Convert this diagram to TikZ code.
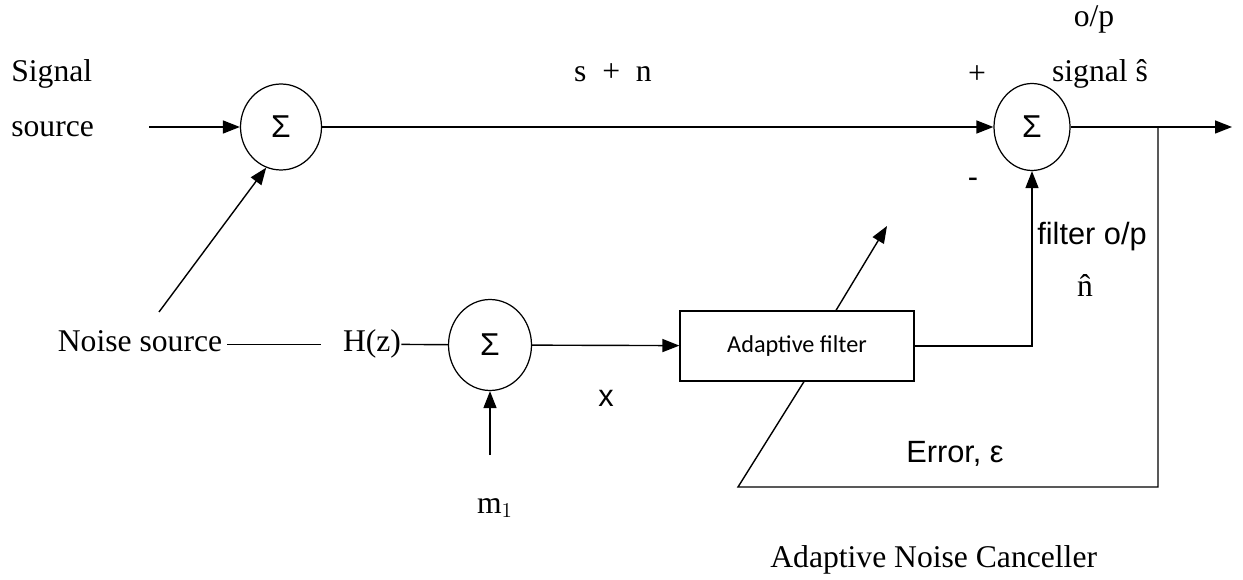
\documentclass[tikz,border=0pt]{standalone}
\usepackage{fontspec}
\setmainfont{Liberation Serif}
\newfontfamily\arialfont{Liberation Sans}
\newfontfamily\califont{Carlito}
\usepackage{tikz}
\usetikzlibrary{arrows.meta,positioning,shapes.geometric}
\tikzset{
  sumnode/.style={ellipse,draw,line width=0.7pt,inner sep=0pt,
    font=\arialfont\fontsize{18}{20}\selectfont},
  filterbox/.style={rectangle,draw,line width=0.7pt,minimum width=4.68cm,
    minimum height=1.4cm,font=\califont\fontsize{13.8}{16}\selectfont},
  serlbl/.style={inner sep=0pt,font=\fontsize{18}{22}\selectfont},
  sanlbl/.style={inner sep=0pt,font=\arialfont\fontsize{17.5}{21}\selectfont},
  arrow/.style={-{Triangle[length=3.4mm,width=2.6mm]},line width=0.8pt},
  wire/.style={line width=0.8pt}
}

\begin{document}
\begin{tikzpicture}[x=0.02cm,y=-0.02cm]
\useasboundingbox (0,0) rectangle (1243,580);
% blocks
\node[sumnode,minimum width=1.62cm,minimum height=1.72cm] (sumA) at (281,127) {Σ};
\node[sumnode,minimum width=1.52cm,minimum height=1.74cm] (sumB) at (1032,127) {Σ};
\node[sumnode,minimum width=1.66cm,minimum height=1.82cm] (sumC) at (490,345) {Σ};
\node[filterbox] (filt) at (797,346) {Adaptive filter};
% labels
\node[serlbl,anchor=base west] (sig1) at (11,82) {Signal};
\node[serlbl,anchor=base west] (sig2) at (11,137) {source};
\node[serlbl,anchor=base] (sn) at (613,82) {s\enspace+\enspace n};
\node[serlbl] (plus) at (977,75) {+};
\node[sanlbl] (minus) at (973,183) {-};
\node[serlbl,anchor=base] (op) at (1094,27) {o/p};
\node[serlbl,anchor=base] (shat) at (1100,82) {signal ŝ};
\node[sanlbl,anchor=base] (fop) at (1092,245) {filter o/p};
\node[serlbl,anchor=base] (nhat) at (1085,297) {\^n};
\node[sanlbl,anchor=base] (err) at (955,462) {Error, ε};
\node[sanlbl,anchor=base] (xin) at (606,407) {x};
\node[serlbl,anchor=base] (noise) at (140,352) {Noise source};
\node[serlbl,anchor=base] (hz) at (372,352) {H(z)};
\node[serlbl,anchor=base] (mone) at (495,513) {m$_1$};
\node[serlbl,anchor=base west] (cap) at (770,567) {Adaptive Noise Canceller};
% free ends
\coordinate (sigin) at (149,127);
\coordinate (nsin) at (159,312);
\coordinate (min) at (490,455);
\coordinate (out) at (1232,127);
\coordinate (tap) at (1158,127);
\coordinate (errc) at (738,487);
\coordinate (adapt) at (887,226);
% connections
\draw[arrow] (sigin) -- (sumA); \draw[arrow] (nsin) -- (sumA.250);
\draw[arrow] (sumA) -- (sumB); \draw[arrow] (sumB) -- (out);
\draw[wire] ([xshift=0.1cm]noise.east |- hz.west) -- ([xshift=-0.44cm]hz.west);
\draw[wire] (hz.east) -- (sumC);
\draw[arrow] (sumC) -- (filt); \draw[arrow] (min) -- (sumC);
\draw[arrow] (filt) -| (sumB);
\draw[wire] (tap) |- (errc) -- ([xshift=0.14cm]filt.south);
\draw[arrow] ([xshift=0.78cm]filt.north) -- (adapt);
\end{tikzpicture}
\end{document}
